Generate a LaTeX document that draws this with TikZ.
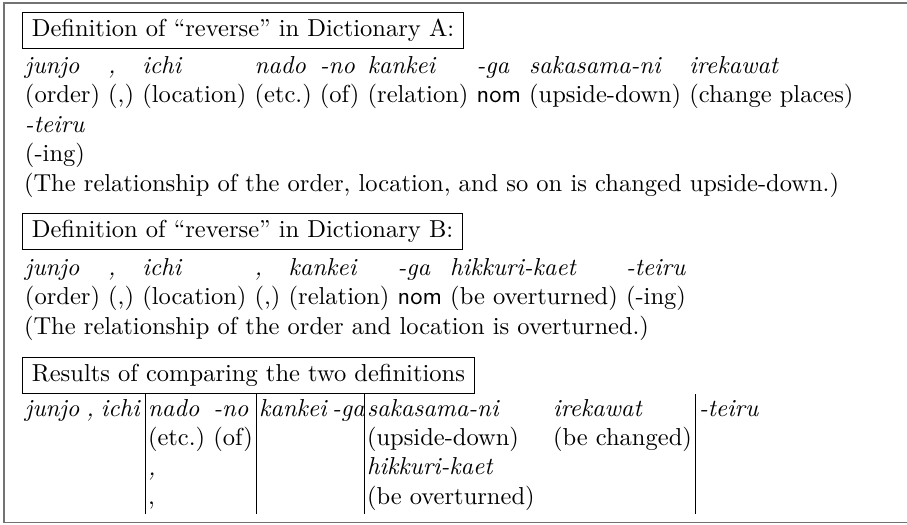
\documentclass[tikz,border=0pt]{standalone}
\usepackage{tikz}
\usetikzlibrary{positioning}
\tikzstyle{frame}=[draw=black!55, line width=0.7pt]
\tikzstyle{hdr}  =[draw, line width=0.4pt, inner xsep=3.8pt, inner ysep=3pt,
                   anchor=north west, text height=6.94pt, text depth=1.94pt]
\tikzstyle{word} =[inner sep=0pt, outer sep=0pt, anchor=base west]
\tikzstyle{rule} =[line width=0.4pt]
\newcommand{\gl}[2]{\begin{tabular}[t]{@{}l@{}}\textit{#1}\\#2\end{tabular}}

\begin{document}
\begin{tikzpicture}[x=0.408pt, y=-0.408pt, node distance=3.33pt]
    \useasboundingbox (0,0) rectangle (907,524);
    \draw[frame] (912,3) -| (4,522.5) -- (912,522.5);

    % Dictionary A
    \node[hdr] (defA) at (22,12) {Definition of “reverse” in Dictionary A:};
    \node[word] (a1) at (25,73) {\gl{junjo}{(order)}};
    \node[word, right=of a1] (a2) {\gl{,}{(,)}};
    \node[word, right=of a2] (a3) {\gl{ichi}{(location)}};
    \node[word, right=of a3] (a4) {\gl{nado}{(etc.)}};
    \node[word, right=of a4] (a5) {\gl{-no}{(of)}};
    \node[word, right=of a5] (a6) {\gl{kankei}{(relation)}};
    \node[word, right=of a6] (a7) {\gl{-ga}{\textsf{nom}}};
    \node[word, right=of a7] (a8) {\gl{sakasama-ni}{(upside-down)}};
    \node[word, right=of a8] (a9) {\gl{irekawat}{(change places)}};
    \node[word] (a10) at (25,132) {\gl{-teiru}{(-ing)}};
    \node[word] (transA) at (24,191)
        {(The relationship of the order, location, and so on is changed upside-down.)};

    % Dictionary B
    \node[hdr] (defB) at (22,213) {Definition of “reverse” in Dictionary B:};
    \node[word] (b1) at (25,275) {\gl{junjo}{(order)}};
    \node[word, right=of b1] (b2) {\gl{,}{(,)}};
    \node[word, right=of b2] (b3) {\gl{ichi}{(location)}};
    \node[word, right=of b3] (b4) {\gl{,}{(,)}};
    \node[word, right=of b4] (b5) {\gl{kankei}{(relation)}};
    \node[word, right=of b5] (b6) {\gl{-ga}{\textsf{nom}}};
    \node[word, right=of b6] (b7) {\gl{hikkuri-kaet}{(be overturned)}};
    \node[word, right=of b7] (b8) {\gl{-teiru}{(-ing)}};
    \node[word] (transB) at (24,334)
        {(The relationship of the order and location is overturned.)};

    % comparison
    \node[hdr] (res) at (22,357) {Results of comparing the two definitions};
    \node[word] (c1) at (25,416) {\textit{junjo\hspace{2.8pt},\hspace{2.8pt}ichi}};
    \node[word] (c2) at (148,416) {\gl{nado}{(etc.)}};
    \node[word, right=of c2] (c3) {\gl{-no}{(of)}};
    \node[word] (c4) at (148,475) {\gl{,}{,}};
    \node[word] (c5) at (259,416) {\textit{kankei\hspace{2.2pt}-ga}};
    \node[word] (c6) at (367,416) {\begin{tabular}[t]{@{}l@{}}\textit{sakasama-ni}\\(upside-down)\\
        \textit{hikkuri-kaet}\\(be overturned)\end{tabular}};
    \node[word] (c7) at (553,416) {\gl{irekawat}{(be changed)}};
    \node[word] (c8) at (699,416) {\textit{-teiru}};

    \coordinate (r1t) at (145,394); \coordinate (r1b) at (145,514);
    \coordinate (r2t) at (256,394); \coordinate (r2b) at (256,514);
    \coordinate (r3t) at (364,394); \coordinate (r3b) at (364,514);
    \coordinate (r4t) at (695,394); \coordinate (r4b) at (695,514);
    \draw[rule] (r1t) -- (r1b);
    \draw[rule] (r2t) -- (r2b);
    \draw[rule] (r3t) -- (r3b);
    \draw[rule] (r4t) -- (r4b);
\end{tikzpicture}
\end{document}
